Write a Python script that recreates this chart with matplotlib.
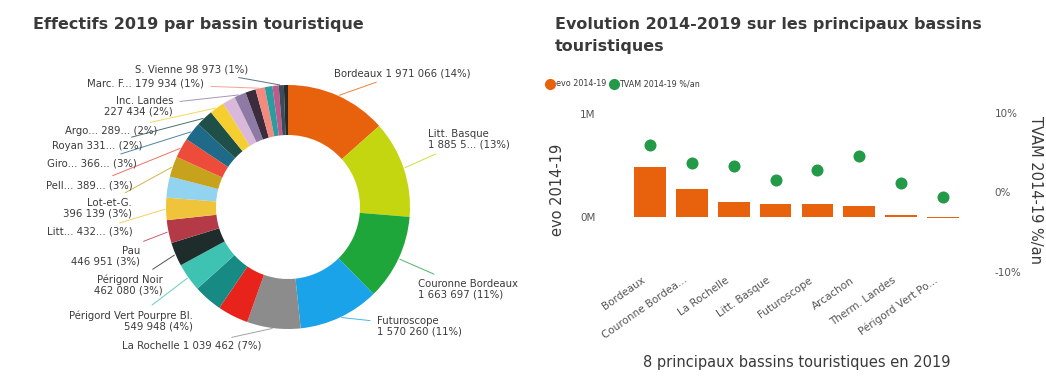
import numpy as np
import matplotlib
matplotlib.use("Agg")
import matplotlib.pyplot as plt
from matplotlib.lines import Line2D
import matplotlib.transforms as mtransforms

plt.rcParams['font.family'] = ['DejaVu Sans']

# ---------------- Data: donut ----------------
basins = ["Bordeaux", "Litt. Basque", "Couronne Bordeaux", "Futuroscope", "La Rochelle",
          "Arcachon", "Therm. Landes", "Périgord Vert Pourpre Bl.", "Périgord Noir", "Pau",
          "Litt...", "Autre 1", "Lot-et-G.", "Pell...", "Giro...", "Royan", "Argo...",
          "Autre 2", "Inc. Landes", "Autre 3", "Marc. F...", "Autre 4", "Autre 5",
          "S. Vienne", "Autre 6"]
effectifs = [1971066, 1885500, 1663697, 1570260, 1039462,
             600000, 560000, 549948, 462080, 446951,
             432000, 410000, 396139, 389000, 366000, 331000, 289000,
             250000, 227434, 200000, 179934, 150000, 120000,
             98973, 80000]
slice_colors = ["#E8620E", "#C3D60F", "#1FA63A", "#1AA3E8", "#8C8C8C",
                "#E8231C", "#178A84", "#3EC2B2", "#1F2C2C", "#B53A47",
                "#F0C43A", "#92D3F0", "#C7A21C", "#EE4C3A", "#1E6A88", "#1F5048", "#F5CF30",
                "#D9B8DA", "#8D7BA5", "#3B2B3D", "#F48A7E", "#2A9DA0", "#C05A8B",
                "#3A4D5A", "#2A2A2A"]
label_texts = {0: "Bordeaux 1 971 066 (14%)",
               1: "Litt. Basque\n1 885 5... (13%)",
               2: "Couronne Bordeaux\n1 663 697 (11%)",
               3: "Futuroscope\n1 570 260 (11%)",
               4: "La Rochelle 1 039 462 (7%)",
               7: "Périgord Vert Pourpre Bl.\n549 948 (4%)",
               8: "Périgord Noir\n462 080 (3%)",
               9: "Pau\n446 951 (3%)",
               10: "Litt... 432... (3%)",
               12: "Lot-et-G.\n396 139 (3%)",
               13: "Pell... 389... (3%)",
               14: "Giro... 366... (3%)",
               15: "Royan 331... (2%)",
               16: "Argo... 289... (2%)",
               18: "Inc. Landes\n227 434 (2%)",
               20: "Marc. F... 179 934 (1%)",
               23: "S. Vienne 98 973 (1%)"}

# ---------------- Data: bar/dot chart ----------------
top_basins = ["Bordeaux", "Couronne Bordea...", "La Rochelle", "Litt. Basque",
              "Futuroscope", "Arcachon", "Therm. Landes", "Périgord Vert Po..."]
evo_2014_19 = [490000, 270000, 150000, 126000, 125000, 110000, 22000, -10000]
tvam_2014_19 = [6.0, 3.7, 3.3, 1.5, 2.8, 4.5, 1.2, -0.6]

# ---------------- Layout ----------------
W, H = 1046, 376
fig = plt.figure(figsize=(W / 100, H / 100), dpi=100)
fig.patch.set_facecolor("white")
TXT = "#3a3a3a"

fig.text(33 / W, 1 - 25 / H, "Effectifs 2019 par bassin touristique", fontsize=11.5,
         fontweight="bold", color=TXT, va="center", ha="left")
fig.text(555 / W, 1 - 25 / H, "Evolution 2014-2019 sur les principaux bassins",
         fontsize=11.5, fontweight="bold", color=TXT, va="center", ha="left")
fig.text(555 / W, 1 - 47 / H, "touristiques", fontsize=11.5, fontweight="bold",
         color=TXT, va="center", ha="left")

# Donut
cx, cy, half = 288, 207, 130
axd = fig.add_axes([(cx - half) / W, 1 - (cy + half) / H, 2 * half / W, 2 * half / H])
R = 122 / half
axd.pie(effectifs, colors=slice_colors, startangle=90, counterclock=False, radius=1.0,
        wedgeprops=dict(width=50 / 122, linewidth=0))
axd.set_xlim(-1 / R, 1 / R)
axd.set_ylim(-1 / R, 1 / R)
axd.set_aspect("equal")
axd.axis("off")

label_pos = {0: (334, 73, "left"), 1: (428, 139, "left"), 2: (418, 289, "left"),
             3: (377, 326, "left"), 4: (262, 346, "right"), 7: (193, 321, "right"),
             8: (163, 285, "right"), 9: (140, 256, "right"), 10: (133, 232, "right"),
             12: (132, 208, "right"), 13: (133, 185, "right"), 14: (137, 163, "right"),
             15: (143, 146, "right"), 16: (157, 131, "right"), 18: (173, 106, "right"),
             20: (204, 84, "right"), 23: (248, 69, "right")}

vals = np.array(effectifs, dtype=float)
cum = np.cumsum(vals) / vals.sum() * 360
starts = np.concatenate([[0], cum[:-1]])
for i, txt in label_texts.items():
    mid = np.deg2rad((starts[i] + cum[i]) / 2)
    xy = (1.0 * np.sin(mid), 1.0 * np.cos(mid))
    px, py, ha = label_pos[i]
    axd.annotate(txt, xy=xy, xycoords="data", xytext=(px, H - py),
                 textcoords="figure pixels", ha=ha, va="center", fontsize=7.3,
                 color=TXT, multialignment=ha, annotation_clip=False, linespacing=1.1,
                 arrowprops=dict(arrowstyle="-", color=slice_colors[i], lw=0.7,
                                 shrinkA=3, shrinkB=1, alpha=0.8))

# Bar + dot chart
ax = fig.add_axes([629 / W, 1 - 278 / H, 335 / W, 170 / H])
x = np.arange(len(top_basins))
ax.bar(x, evo_2014_19, width=0.76, color="#E8620E", zorder=2)
ax.set_xlim(-0.5, len(top_basins) - 0.5)
ax.set_ylim(-0.59e6, 1.06e6)
ax.set_yticks([0, 1e6])
ax.set_yticklabels(["0M", "1M"])
ax.tick_params(axis="y", length=0, pad=24, labelsize=7.5, labelcolor="#555555")
ax.set_xticks(x)
ax.set_xticklabels(top_basins, rotation=35, ha="right", rotation_mode="anchor",
                   fontsize=7.5, color="#555555")
ax.tick_params(axis="x", length=0, pad=0)
offset = mtransforms.ScaledTranslation(-9 / 100, 3 / 100, fig.dpi_scale_trans)
for lbl in ax.get_xticklabels():
    lbl.set_transform(lbl.get_transform() + offset)
for s in ax.spines.values():
    s.set_visible(False)

ax2 = ax.twinx()
ax2.scatter(x, tvam_2014_19, s=75, color="#239A48", zorder=3, linewidths=0)
ax2.set_ylim(-10.8, 10.6)
ax2.set_yticks([-10, 0, 10])
ax2.set_yticklabels(["-10%", "0%", "10%"])
ax2.tick_params(axis="y", length=0, pad=22, labelsize=7.5, labelcolor="#555555")
for s in ax2.spines.values():
    s.set_visible(False)

fig.text(558 / W, 1 - 190 / H, "evo 2014-19", rotation=90, fontsize=10.5, color=TXT,
         ha="center", va="center")
fig.text(1036 / W, 1 - 190 / H, "TVAM 2014-19 %/an", rotation=270, fontsize=10.5,
         color=TXT, ha="center", va="center")
fig.text(797 / W, 1 - 363 / H, "8 principaux bassins touristiques en 2019", fontsize=10.5,
         color=TXT, ha="center", va="center")

handles = [Line2D([], [], marker="o", linestyle="", color="#E8620E", markersize=7),
           Line2D([], [], marker="o", linestyle="", color="#239A48", markersize=7)]
fig.legend(handles, ["evo 2014-19", "TVAM 2014-19 %/an"], loc="center left",
           bbox_to_anchor=(540 / W, 1 - 84 / H), ncol=2, frameon=False, fontsize=5.8,
           handletextpad=0.3, columnspacing=0.5, handlelength=0.8, labelcolor=TXT)

fig.savefig("out.png", dpi=100, facecolor="white")
